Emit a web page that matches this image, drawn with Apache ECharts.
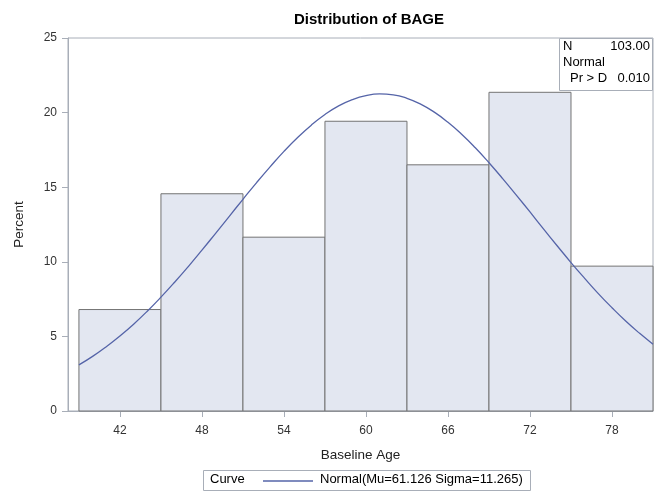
<!DOCTYPE html>
<html>
<head>
<meta charset="utf-8">
<script src="https://cdn.jsdelivr.net/npm/echarts@6/dist/echarts.min.js"></script>
<style>html,body{margin:0;padding:0;background:#fff}#c{width:658px;height:492px}</style>
</head>
<body>
<div id="c"></div>
<script>
// ---- data ----
const titleText = 'Distribution of BAGE';
const xTitle = 'Baseline Age';
const yTitle = 'Percent';
const midpoints = [42, 48, 54, 60, 66, 72, 78];
const binWidth = 6;
const percents = [6.80, 14.56, 11.65, 19.42, 16.50, 21.36, 9.71];
const xTicks = [42, 48, 54, 60, 66, 72, 78];
const curveX = [39,40,41,42,43,44,45,46,47,48,49,50,51,52,53,54,55,56,57,58,59,60,61,62,63,64,65,66,67,68,69,70,71,72,73,74,75,76,77,78,79,80,81];
const curveY = [3.09,3.66,4.31,5.03,5.82,6.69,7.63,8.63,9.68,10.78,11.91,13.05,14.19,15.31,16.38,17.40,18.33,19.16,19.87,20.45,20.87,21.14,21.25,21.19,20.96,20.57,20.03,19.35,18.55,17.64,16.64,15.58,14.47,13.34,12.19,11.06,9.95,8.89,7.87,6.92,6.03,5.22,4.48];
const curveName = 'Normal(Mu=61.126 Sigma=11.265)';
const legendLabel = 'Curve';
const insetRows = [['N', '103.00'], ['Normal', ''], ['Pr > D', '0.010']];

const FONT = '"Liberation Sans", Arial, sans-serif';
const barData = midpoints.map((m, i) => [m - binWidth / 2, m + binWidth / 2, percents[i]]);
const curveData = curveX.map((x, i) => [x, curveY[i]]);

const chart = echarts.init(document.getElementById('c'), null, {renderer: 'canvas'});
const frame = '#a8aeb8';
const option = {
  animation: false,
  backgroundColor: '#fff',
  textStyle: {fontFamily: FONT},
  title: {
    text: titleText, left: 364, top: 7, textAlign: 'center',
    textStyle: {fontFamily: FONT, fontSize: 15, fontWeight: 'bold', color: '#000'}
  },
  grid: {left: 68, right: 5, top: 38, bottom: 81, show: true, borderColor: frame, borderWidth: 1, backgroundColor: 'transparent'},
  xAxis: {
    type: 'value', min: 38.2, max: 81,
    name: xTitle, nameLocation: 'middle', nameGap: 37,
    nameTextStyle: {fontFamily: FONT, fontSize: 13.5, color: '#222'},
    axisLine: {show: true, lineStyle: {color: frame}},
    axisTick: {show: true, length: 6, lineStyle: {color: frame}, customValues: xTicks},
    axisLabel: {customValues: xTicks, fontFamily: FONT, fontSize: 12, color: '#333', margin: 14},
    splitLine: {show: false}
  },
  yAxis: {
    type: 'value', min: 0, max: 25, interval: 5,
    name: yTitle, nameLocation: 'middle', nameGap: 42, nameRotate: 90,
    nameTextStyle: {fontFamily: FONT, fontSize: 13.5, color: '#222'},
    axisLine: {show: true, lineStyle: {color: frame}},
    axisTick: {show: true, length: 6, lineStyle: {color: frame}},
    axisLabel: {fontFamily: FONT, fontSize: 12, color: '#333', margin: 11},
    splitLine: {show: false}
  },
  series: [
    {
      type: 'custom', name: 'Histogram', data: barData, z: 2,
      renderItem: function (params, api) {
        const p0 = api.coord([api.value(0), api.value(2)]);
        const p1 = api.coord([api.value(1), 0]);
        return {
          type: 'rect',
          shape: {x: p0[0], y: p0[1], width: p1[0] - p0[0], height: p1[1] - p0[1]},
          style: {fill: '#e3e7f1', stroke: '#737373', lineWidth: 1}
        };
      }
    },
    {
      type: 'line', name: curveName, data: curveData, smooth: true, showSymbol: false, z: 3,
      lineStyle: {color: '#5564a8', width: 1.3}, itemStyle: {color: '#5564a8'}
    }
  ],
  graphic: [
    {type: 'rect', shape: {x: 559.5, y: 38.5, width: 93, height: 52}, style: {fill: '#fff', stroke: frame, lineWidth: 1}, z: 10},
    {type: 'text', left: 563, top: 40, style: {text: insetRows[0][0], font: '13px ' + FONT, fill: '#000'}, z: 11},
    {type: 'text', right: 8, top: 40, style: {text: insetRows[0][1], font: '13px ' + FONT, fill: '#000', textAlign: 'right'}, z: 11},
    {type: 'text', left: 563, top: 56, style: {text: insetRows[1][0], font: '13px ' + FONT, fill: '#000'}, z: 11},
    {type: 'text', left: 570, top: 72, style: {text: insetRows[2][0], font: '13px ' + FONT, fill: '#000'}, z: 11},
    {type: 'text', right: 8, top: 72, style: {text: insetRows[2][1], font: '13px ' + FONT, fill: '#000', textAlign: 'right'}, z: 11},
    {type: 'rect', shape: {x: 203.5, y: 470.5, width: 327, height: 20}, style: {fill: '#fff', stroke: frame, lineWidth: 1}},
    {type: 'text', left: 210, top: 473, style: {text: legendLabel, font: '13px ' + FONT, fill: '#000'}},
    {type: 'line', shape: {x1: 263, y1: 481, x2: 313, y2: 481}, style: {stroke: '#5564a8', lineWidth: 1.3}},
    {type: 'text', left: 320, top: 473, style: {text: curveName, font: '13px ' + FONT, fill: '#000'}}
  ]
};
chart.setOption(option);
</script>
</body>
</html>
